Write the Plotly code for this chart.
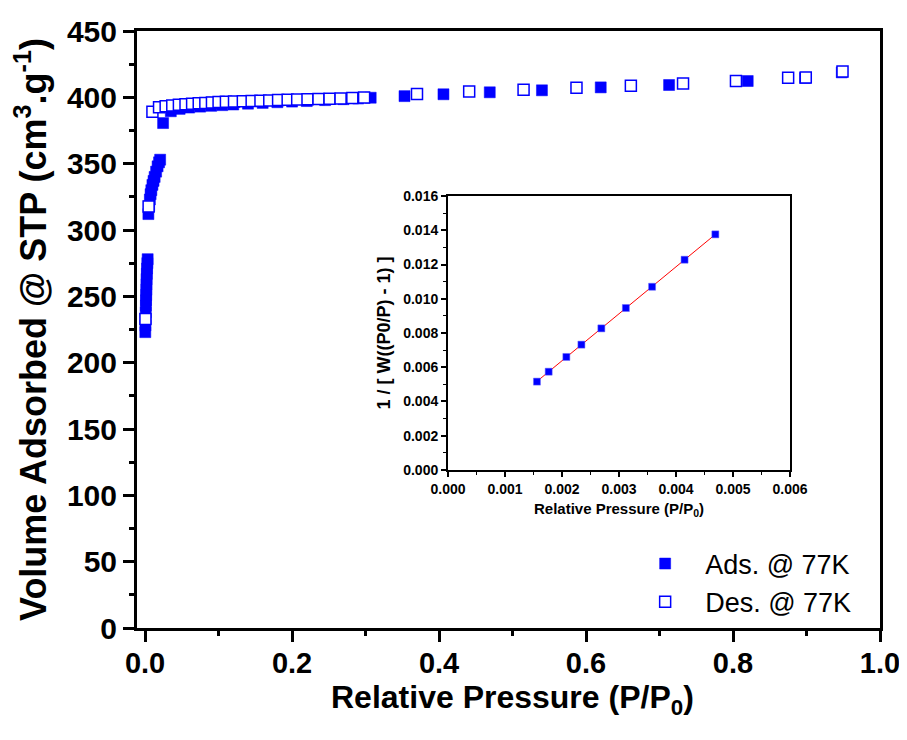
import numpy as np
import plotly.graph_objects as go

BLUE = "#0000FF"
FONT = "Liberation Sans"

# adsorption branch (filled squares)
ads_p = [0.0003, 0.0005, 0.0007, 0.0009, 0.0011, 0.0013, 0.0015, 0.0017, 0.0019,
         0.0021, 0.0024, 0.0027, 0.0031, 0.0035,
         0.0045, 0.0055, 0.0065, 0.0075, 0.0085, 0.0100, 0.0115, 0.013, 0.015,
         0.017, 0.019, 0.0205, 0.0245,
         0.035, 0.047, 0.060, 0.075, 0.090, 0.105, 0.120, 0.140, 0.160, 0.180,
         0.200, 0.220, 0.245, 0.270, 0.290, 0.307,
         0.353, 0.406, 0.469, 0.540, 0.620, 0.713, 0.820, 0.898, 0.948]
ads_v = [223, 228, 233, 238, 243, 247, 251, 255, 259, 263, 267, 271, 275, 278,
         312, 318, 323, 327, 330, 334, 337, 340, 344, 348, 351, 353, 380.6,
         389.5, 391.3, 392.3, 393.0, 393.6, 394.1, 394.6, 395.2, 395.8, 396.3,
         396.8, 397.2, 397.9, 398.6, 399.1, 399.7,
         400.9, 402.3, 403.8, 405.3, 407.5, 409.3, 412.3, 414.6, 418.8]

# desorption branch (open squares)
des_p = [0.0005, 0.0048, 0.010, 0.019, 0.028, 0.037, 0.046, 0.055, 0.064, 0.073,
         0.082, 0.091, 0.100, 0.110, 0.121, 0.133, 0.145, 0.157, 0.169, 0.181,
         0.194, 0.207, 0.221, 0.236, 0.251, 0.266, 0.282, 0.298,
         0.370, 0.441, 0.515, 0.587, 0.661, 0.732, 0.804, 0.875, 0.899, 0.949]
des_v = [233, 317.8, 389.2, 392.5, 393.3, 393.9, 394.4, 394.8, 395.2, 395.5,
         395.8, 396.1, 396.4, 396.6, 396.9, 397.1, 397.3, 397.5, 397.7, 397.9,
         398.1, 398.3, 398.5, 398.7, 399.0, 399.2, 399.5, 399.8,
         402.5, 404.4, 405.8, 407.3, 408.8, 410.5, 412.3, 414.8, 415.0, 419.4]

# BET plot (inset)
bet_p = [0.00156, 0.001766, 0.002076, 0.00234, 0.00269, 0.00312, 0.00358, 0.00415, 0.00469]
bet_y = [0.00516, 0.00574, 0.0066, 0.00732, 0.00827, 0.00946, 0.0107, 0.01228, 0.01376]

slope, icpt = np.polyfit(bet_p, bet_y, 1)
fit_x = [bet_p[0], bet_p[-1]]
fit_y = [slope * x + icpt for x in fit_x]

fig = go.Figure()
fig.add_trace(go.Scatter(
    x=ads_p, y=ads_v, mode="markers", name="Ads. @ 77K",
    marker=dict(symbol="square", size=11, color=BLUE, line=dict(width=0.5, color=BLUE)),
))
fig.add_trace(go.Scatter(
    x=des_p, y=des_v, mode="markers", name="Des. @ 77K",
    marker=dict(symbol="square", size=11, color="white", line=dict(width=1.5, color=BLUE)),
))
fig.add_trace(go.Scatter(
    x=fit_x, y=fit_y, mode="lines", xaxis="x2", yaxis="y2", showlegend=False,
    line=dict(color="red", width=1),
))
fig.add_trace(go.Scatter(
    x=bet_p, y=bet_y, mode="markers", xaxis="x2", yaxis="y2", showlegend=False,
    marker=dict(symbol="square", size=7, color=BLUE, line=dict(width=0.5, color="#6666ff")),
))

bold = lambda s: dict(family=FONT, size=s, color="black", weight="bold")

main_axis = dict(
    showline=True, linewidth=3, linecolor="black", mirror=True, automargin=False,
    ticks="outside", ticklen=11, tickwidth=3, tickcolor="black",
    showgrid=False, zeroline=False,
)
inset_axis = dict(
    showline=True, linewidth=2, linecolor="black", mirror=True, automargin=False,
    ticks="outside", ticklen=5, tickwidth=1.5, tickcolor="black",
    showgrid=False, zeroline=False, tickfont=bold(14),
)

# page body adds an 8px offset, so margins are trimmed on the top/left
fig.update_layout(
    width=907, height=740,
    margin=dict(l=129, r=35, t=23, b=120),
    plot_bgcolor="white", paper_bgcolor="white",
    xaxis=dict(main_axis, range=[-0.011, 1.0], dtick=0.2, tickformat=".1f", tickfont=bold(29),
               ticklabelstandoff=-4,
               minor=dict(dtick=0.1, ticks="outside", ticklen=5, tickwidth=3, tickcolor="black")),
    yaxis=dict(main_axis, range=[0, 450], dtick=50, tickfont=bold(30),
               minor=dict(dtick=25, ticks="outside", ticklen=5, tickwidth=3, tickcolor="black"),
               title=dict(text="Volume Adsorbed @ STP (cm<sup>3</sup>.g<sup>-1</sup>)", font=bold(36), standoff=10)),
    xaxis2=dict(inset_axis, domain=[0.4186, 0.8789], anchor="y2", range=[0, 0.006], dtick=0.001,
                tickformat=".3f",
                minor=dict(dtick=0.0005, ticks="outside", ticklen=3, tickwidth=1, tickcolor="black"),
                title=dict(text="Relative Pressure (P/P<sub>0</sub>)", font=bold(15), standoff=8)),
    yaxis2=dict(inset_axis, domain=[0.2647, 0.7236], anchor="x2", range=[0, 0.016], dtick=0.002,
                tickformat=".3f",
                minor=dict(dtick=0.001, ticks="outside", ticklen=3, tickwidth=1, tickcolor="black"),
                title=dict(text="1 / [ W((P0/P) - 1) ]", font=bold(18), standoff=8)),
    legend=dict(x=0.657, y=0.0025, xanchor="left", yanchor="bottom", itemwidth=70,
                bgcolor="rgba(0,0,0,0)", font=dict(family=FONT, size=27, color="black")),
    annotations=[dict(
        text="Relative Pressure (P/P<sub>0</sub>)", font=bold(32), showarrow=False,
        xref="paper", yref="paper", x=0.506, y=-0.119, xanchor="center", yanchor="middle",
    )],
)

fig.write_html("out.html")
